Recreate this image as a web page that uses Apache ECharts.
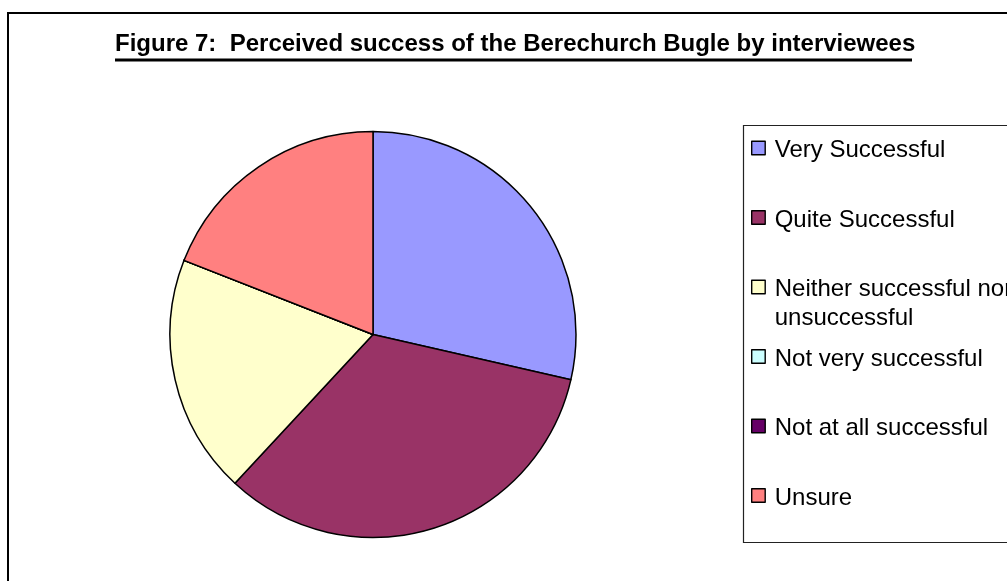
<!DOCTYPE html>
<html>
<head>
<meta charset="utf-8">
<title>Figure 7</title>
<script src="https://cdn.jsdelivr.net/npm/echarts@6/dist/echarts.min.js"></script>
<style>
  html, body { margin: 0; padding: 0; background: #fff; }
  #chart { width: 1007px; height: 581px; }
</style>
</head>
<body>
<div id="chart"></div>
<script>
// survey answers, in legend order
const categories = [
  'Very Successful',
  'Quite Successful',
  'Neither successful nor unsuccessful',
  'Not very successful',
  'Not at all successful',
  'Unsure'
]
// the legend wraps the long label onto two lines
const legendLabels = [
  'Very Successful',
  'Quite Successful',
  'Neither successful nor\nunsuccessful',
  'Not very successful',
  'Not at all successful',
  'Unsure'
]
const responses = [6, 7, 4, 0, 0, 4]
const sliceColors = ['#9999FF', '#993366', '#FFFFCC', '#CCFFFF', '#660066', '#FF8080']

const titleText = 'Figure 7:  Perceived success of the Berechurch Bugle by interviewees'

const FONT = '"Liberation Sans", Arial, sans-serif'
const LEGEND_FONT = 24
const LEGEND_LINE = 29
const LEGEND_SHIFT = 5      // pushes text a bit below the icon centre
const FIRST_ICON_Y = 148    // centre of the first legend square
const LEGEND_STEP = 69.5

const chart = echarts.init(document.getElementById('chart'))

// one legend per entry so the wrapped label does not push the rest down.
// the item box is the padded text box, so place it from the icon centre
const legends = categories.map((name, i) => {
  const lines = legendLabels[i].split('\n').length
  const padTop = (lines - 1) * LEGEND_LINE + LEGEND_SHIFT
  const iconY = FIRST_ICON_Y + i * LEGEND_STEP
  return {
    data: [name],
    orient: 'vertical',
    left: 751,
    top: iconY - (lines * LEGEND_LINE + padTop) / 2,
    padding: 0,
    icon: 'rect',
    itemWidth: 13.5,
    itemHeight: 13.5,
    selectedMode: false,
    itemStyle: { borderColor: '#000', borderWidth: 1.4 },
    formatter: n => legendLabels[categories.indexOf(n)],
    textStyle: {
      fontFamily: FONT,
      fontSize: LEGEND_FONT,
      color: '#000',
      lineHeight: LEGEND_LINE,
      padding: [padTop, 0, 0, 4.5],
      rich: { t: { fontSize: LEGEND_FONT } }
    }
  }
})

chart.setOption({
  animation: false,
  backgroundColor: '#fff',
  title: {
    text: titleText,
    left: 115,
    top: 32,
    padding: 0,
    textStyle: { fontFamily: FONT, fontSize: 24, fontWeight: 'bold', color: '#000' }
  },
  legend: legends,
  graphic: [
    // outer frame, runs off the right and bottom edges
    { type: 'rect', shape: { x: 8, y: 13, width: 1100, height: 700 },
      style: { fill: 'none', stroke: '#000', lineWidth: 2 }, silent: true },
    // title underline
    { type: 'line', shape: { x1: 115, y1: 60, x2: 912, y2: 60 },
      style: { stroke: '#000', lineWidth: 3 }, silent: true },
    // legend box
    { type: 'rect', shape: { x: 743.5, y: 125.5, width: 400, height: 417 },
      style: { fill: 'none', stroke: '#222', lineWidth: 1.2 }, silent: true }
  ],
  series: [
    {
      type: 'pie',
      center: [373, 334.5],
      radius: 203,
      startAngle: 90,
      clockwise: true,
      label: { show: false },
      labelLine: { show: false },
      emphasis: { disabled: true },
      itemStyle: { borderColor: '#000', borderWidth: 1.5 },
      data: categories.map((name, i) => ({
        name,
        value: responses[i],
        itemStyle: { color: sliceColors[i] }
      }))
    }
  ]
})
</script>
</body>
</html>
